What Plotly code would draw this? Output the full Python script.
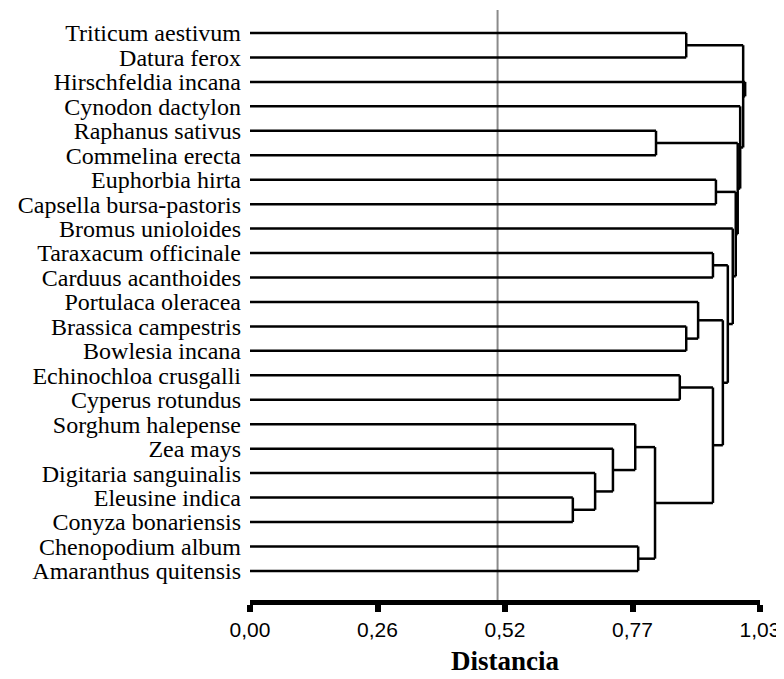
import plotly.graph_objects as go

# Leaves, top to bottom
leaves = [
    "Triticum aestivum", "Datura ferox", "Hirschfeldia incana", "Cynodon dactylon",
    "Raphanus sativus", "Commelina erecta", "Euphorbia hirta", "Capsella bursa-pastoris",
    "Bromus unioloides", "Taraxacum officinale", "Carduus acanthoides", "Portulaca oleracea",
    "Brassica campestris", "Bowlesia incana", "Echinochloa crusgalli", "Cyperus rotundus",
    "Sorghum halepense", "Zea mays", "Digitaria sanguinalis", "Eleusine indica",
    "Conyza bonariensis", "Chenopodium album", "Amaranthus quitensis",
]

# Merges: (new cluster, child 1, child 2, distance)
merge_names = ["T", "Q", "O", "L", "I", "J", "G", "A", "B", "C", "D", "E", "F",
               "H", "K", "M", "N", "P", "R", "S", "V", "W"]
merge_left = ["Triticum aestivum", "Raphanus sativus", "Euphorbia hirta", "Taraxacum officinale",
              "Brassica campestris", "Portulaca oleracea", "Echinochloa crusgalli",
              "Eleusine indica", "Digitaria sanguinalis", "Zea mays", "Sorghum halepense",
              "Chenopodium album", "D", "G", "J", "L", "Bromus unioloides", "O", "Q",
              "Cynodon dactylon", "T", "Hirschfeldia incana"]
merge_right = ["Datura ferox", "Commelina erecta", "Capsella bursa-pastoris", "Carduus acanthoides",
               "Bowlesia incana", "I", "Cyperus rotundus", "Conyza bonariensis", "A", "B", "C",
               "Amaranthus quitensis", "E", "F", "H", "K", "M", "N", "P", "R", "S", "V"]
merge_dist = [0.881, 0.820, 0.941, 0.935, 0.881, 0.905, 0.868, 0.652, 0.697, 0.733, 0.778,
              0.784, 0.818, 0.935, 0.955, 0.965, 0.975, 0.981, 0.985, 0.990, 0.996, 1.000]

cutoff = 0.5
tick_vals = [0.0, 0.2575, 0.515, 0.7725, 1.03]
tick_text = ["0,00", "0,26", "0,52", "0,77", "1,03"]

# Build dendrogram segments
pos = {name: (float(i), 0.0) for i, name in enumerate(leaves)}
xs, ys = [], []
for name, a, b, h in zip(merge_names, merge_left, merge_right, merge_dist):
    ya, ha = pos[a]
    yb, hb = pos[b]
    xs += [ha, h, None, hb, h, None, h, h, None]
    ys += [ya, ya, None, yb, yb, None, ya, yb, None]
    pos[name] = ((ya + yb) / 2.0, h)

fig = go.Figure()
fig.add_trace(go.Scatter(x=xs, y=ys, mode="lines",
                         line=dict(color="black", width=2.5),
                         hoverinfo="skip", cliponaxis=False, showlegend=False))

fig.add_shape(type="line", xref="x", yref="paper", x0=cutoff, x1=cutoff, y0=0, y1=1,
              line=dict(color="#8a8a8a", width=2), layer="below")

fig.update_layout(
    width=776, height=671,
    margin=dict(l=242, r=24, t=2, b=79, autoexpand=False),
    plot_bgcolor="white", paper_bgcolor="white",
    showlegend=False,
)
fig.update_xaxes(
    range=[0, 1.03], tickvals=tick_vals, ticktext=tick_text, automargin=False,
    showgrid=False, zeroline=False,
    showline=True, linecolor="black", linewidth=5,
    ticks="outside", ticklen=7, tickwidth=6, tickcolor="black",
    tickfont=dict(family="Liberation Sans, Arial", size=21, color="black"),
    title=dict(text="<b>Distancia</b>", standoff=12,
               font=dict(family="Liberation Serif, Times New Roman", size=27, color="black")),
)
fig.update_yaxes(
    range=[23.19, -0.94], tickvals=list(range(len(leaves))), ticktext=leaves,
    automargin=False,
    showgrid=False, zeroline=False, showline=False, ticks="",
    ticklabelstandoff=8,
    tickfont=dict(family="Liberation Serif, Times New Roman", size=24, color="black"),
)

fig.write_html("out.html")
